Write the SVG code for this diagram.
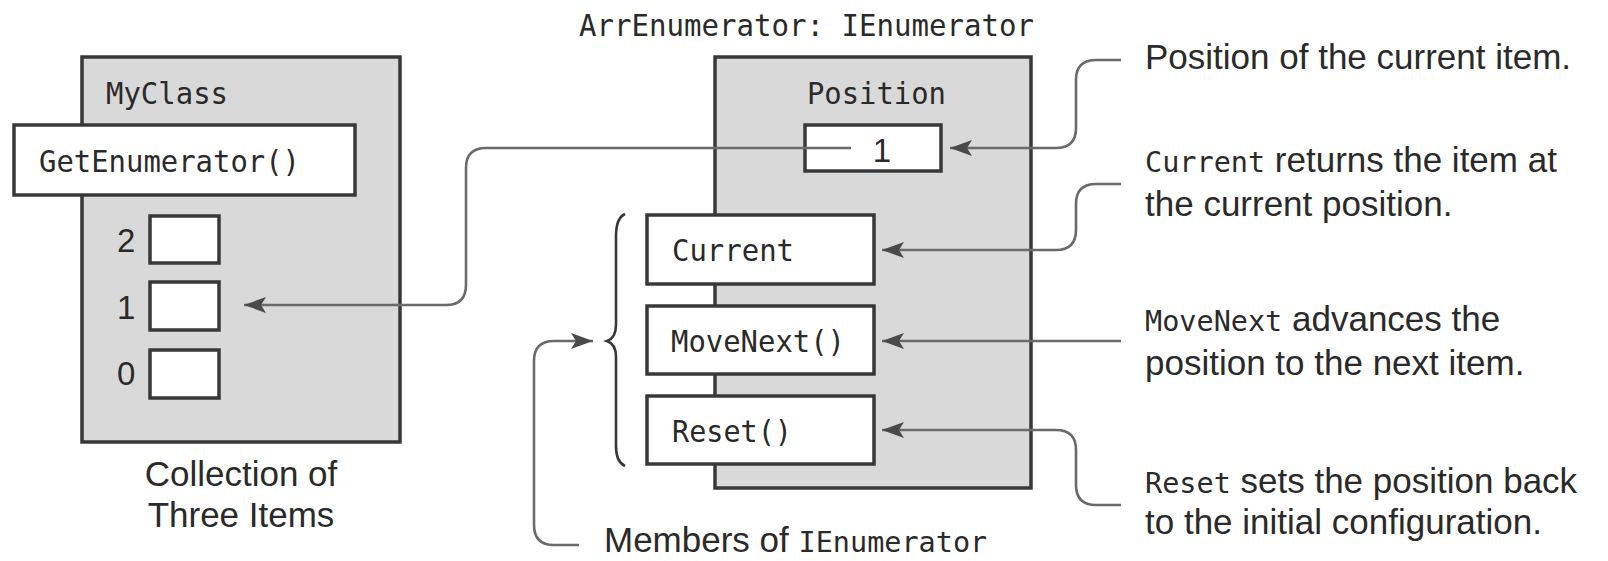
<svg xmlns="http://www.w3.org/2000/svg" width="1608" height="561" viewBox="0 0 1608 561">
  <style>
    .panel { fill: #d9d9d9; stroke: #383838; stroke-width: 3.5; }
    .box { fill: #ffffff; stroke: #383838; stroke-width: 3.5; }
    .mono { font-family: "DejaVu Sans Mono", "Liberation Mono", monospace; font-size: 31px; fill: #2a2a2a; }
    .sans { font-family: "Liberation Sans", Arial, sans-serif; font-size: 35px; fill: #2a2a2a; }
    .num { font-family: "Liberation Sans", Arial, sans-serif; font-size: 33px; fill: #2a2a2a; }
    .tt { font-family: "DejaVu Sans Mono", "Liberation Mono", monospace; font-size: 28.5px; }
    .wire { fill: none; stroke: #6a6a6a; stroke-width: 2.6; }
    .brace { fill: none; stroke: #383838; stroke-width: 2.6; }
  </style>
  <defs>
    <marker id="arrow" markerUnits="userSpaceOnUse" markerWidth="24" markerHeight="18" refX="22" refY="8" orient="auto">
      <path d="M0,0 L22,8 L0,16 L5,8 Z" fill="#4a4a4a"/>
    </marker>
  </defs>

  <rect width="1608" height="561" fill="#ffffff"/>

  <!-- collection class -->
  <g id="myclass">
    <rect class="panel" x="82" y="57" width="318" height="385"/>
    <text class="mono" x="106" y="104" textLength="122" lengthAdjust="spacingAndGlyphs">MyClass</text>
  </g>
  <g id="get-enumerator">
    <rect class="box" x="14" y="125" width="341" height="70"/>
    <text class="mono" x="39" y="172" textLength="261" lengthAdjust="spacingAndGlyphs">GetEnumerator()</text>
  </g>
  <g id="item-2">
    <rect class="box" x="150" y="216" width="69" height="47"/>
    <text class="num" x="117" y="252">2</text>
  </g>
  <g id="item-1">
    <rect class="box" x="150" y="282" width="69" height="48"/>
    <text class="num" x="117" y="319">1</text>
  </g>
  <g id="item-0">
    <rect class="box" x="150" y="350" width="69" height="48"/>
    <text class="num" x="117" y="385">0</text>
  </g>
  <g id="collection-caption">
    <text class="sans" x="241" y="486" text-anchor="middle">Collection of</text>
    <text class="sans" x="241" y="527" text-anchor="middle">Three Items</text>
  </g>

  <!-- enumerator object -->
  <g id="enumerator">
    <text class="mono" x="579" y="36" textLength="455" lengthAdjust="spacingAndGlyphs">ArrEnumerator: IEnumerator</text>
    <rect class="panel" x="715" y="57" width="316" height="431"/>
    <text class="mono" x="807" y="104" textLength="139" lengthAdjust="spacingAndGlyphs">Position</text>
  </g>
  <g id="position-value">
    <rect class="box" x="805" y="125" width="136" height="46"/>
  </g>
  <g id="current">
    <rect class="box" x="647" y="215" width="227" height="69"/>
    <text class="mono" x="672" y="261" textLength="122" lengthAdjust="spacingAndGlyphs">Current</text>
  </g>
  <g id="movenext">
    <rect class="box" x="647" y="306" width="227" height="68"/>
    <text class="mono" x="671" y="352" textLength="174" lengthAdjust="spacingAndGlyphs">MoveNext()</text>
  </g>
  <g id="reset">
    <rect class="box" x="647" y="396" width="227" height="68"/>
    <text class="mono" x="672" y="442" textLength="120" lengthAdjust="spacingAndGlyphs">Reset()</text>
  </g>
  <g id="members-brace">
    <path class="brace" d="M625,214 Q616,218 616,236 L616,325 Q616,338 607,341 Q616,344 616,357 L616,446 Q616,462 625,466"/>
  </g>

  <!-- connectors -->
  <g id="connectors">
    <path class="wire" d="M851,148 L486,148 Q466,148 466,168 L466,285 Q466,305 446,305 L244,305" marker-end="url(#arrow)"/>
    <path class="wire" d="M1121,60 L1096,60 Q1076,60 1076,80 L1076,128 Q1076,148 1056,148 L950,148" marker-end="url(#arrow)"/>
    <path class="wire" d="M1121,184 L1096,184 Q1076,184 1076,204 L1076,230 Q1076,250 1056,250 L882,250" marker-end="url(#arrow)"/>
    <path class="wire" d="M1121,341 L882,341" marker-end="url(#arrow)"/>
    <path class="wire" d="M1121,505 L1096,505 Q1076,505 1076,485 L1076,450 Q1076,430 1056,430 L882,430" marker-end="url(#arrow)"/>
    <path class="wire" d="M579,545 L554,545 Q534,545 534,525 L534,361 Q534,341 554,341 L593,341" marker-end="url(#arrow)"/>
  </g>

  <!-- value drawn over the incoming line -->
  <text class="num" x="882" y="162" text-anchor="middle" font-size="34">1</text>

  <!-- annotations -->
  <g id="note-position">
    <text class="sans" x="1145" y="69">Position of the current item.</text>
  </g>
  <g id="note-current">
    <text class="sans" x="1145" y="172"><tspan class="tt">Current</tspan> returns the item at</text>
    <text class="sans" x="1145" y="216">the current position.</text>
  </g>
  <g id="note-movenext">
    <text class="sans" x="1145" y="331"><tspan class="tt">MoveNext</tspan> advances the</text>
    <text class="sans" x="1145" y="375">position to the next item.</text>
  </g>
  <g id="note-reset">
    <text class="sans" x="1145" y="493"><tspan class="tt">Reset</tspan> sets the position back</text>
    <text class="sans" x="1145" y="534">to the initial configuration.</text>
  </g>
  <g id="note-members">
    <text class="sans" x="604" y="552">Members of <tspan class="tt">IEnumerator</tspan></text>
  </g>
</svg>
